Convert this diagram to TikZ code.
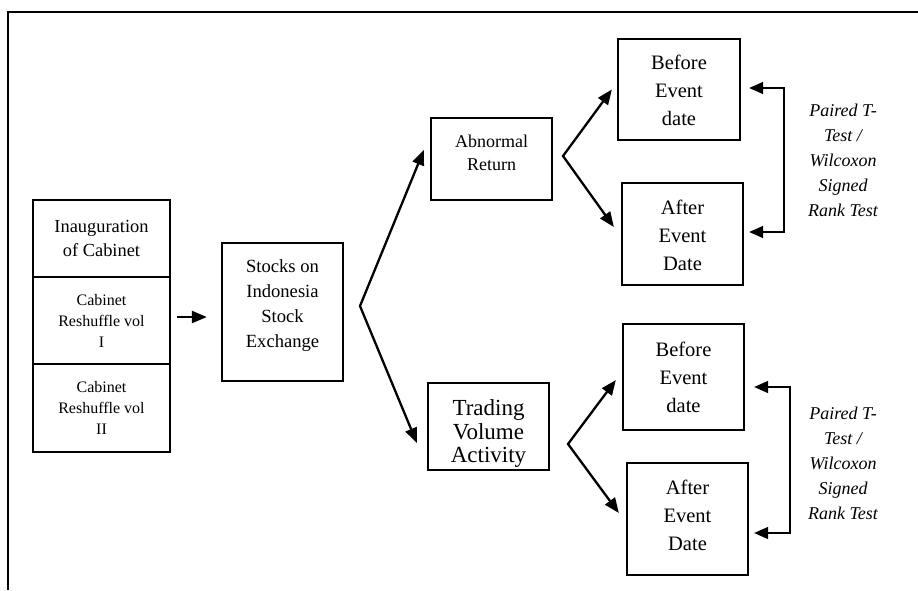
\documentclass[tikz,border=0pt]{standalone}
\usepackage{fontspec}
\setmainfont{Liberation Serif}
\usetikzlibrary{arrows.meta,calc}
\newcommand\liftlines[2]{\raisebox{#1}[\height][\depth]{\begin{tabular}{@{}c@{}}#2\end{tabular}}}
\begin{document}
\begin{tikzpicture}[x=1pt,y=-1pt,
  box/.style={draw, line width=2.3pt, rectangle, align=center, inner sep=2pt},
  arr/.style={line width=2.3pt, -{Triangle[length=15pt,width=12pt]}},
  darr/.style={line width=2.3pt, line join=miter, {Triangle[length=15pt,width=12pt]}-{Triangle[length=15pt,width=12pt]}},
  brk/.style={line width=1.5pt, {Triangle[length=14pt,width=12pt]}-{Triangle[length=14pt,width=12pt]}},
  lab/.style={align=center, font=\itshape\fontsize{18}{25}\selectfont},
  frame/.style={line width=2.5pt, line join=miter},
  bigf/.style={font=\fontsize{18.4}{24}\selectfont},
  smallf/.style={font=\fontsize{16}{21}\selectfont},
  midf/.style={font=\fontsize{18.6}{25}\selectfont},
  arf/.style={font=\fontsize{18}{23}\selectfont},
  tvf/.style={font=\fontsize{23}{23.5}\selectfont},
  evf/.style={font=\fontsize{20.5}{28}\selectfont}]
\useasboundingbox (0,0) rectangle (918,590);
% frame
\draw[frame] (8,590) -- (8,12) -- (918,12);
% left stack
\node[box, bigf, minimum width=137pt, minimum height=77pt] (inaug) at (101.5,238.5) {Inauguration\\of Cabinet};
\node[box, smallf, minimum width=137pt, minimum height=87pt] (resh1) at (101.5,320.5) {Cabinet\\Reshuffle vol\\I};
\node[box, smallf, minimum width=137pt, minimum height=88pt] (resh2) at (101.5,408) {Cabinet\\Reshuffle vol\\II};
% stocks
\node[box, midf, minimum width=121pt, minimum height=138pt] (stocks) at (282.5,312) {\liftlines{7pt}{Stocks on\\Indonesia\\Stock\\Exchange}};
% middle
\node[box, arf, minimum width=121pt, minimum height=82pt] (ar) at (491.5,159) {\liftlines{5pt}{Abnormal\\Return}};
\node[box, tvf, minimum width=121pt, minimum height=87pt] (tva) at (488.5,426.5) {\liftlines{-8pt}{Trading\\Volume\\Activity}};
% right boxes
\node[box, evf, minimum width=122pt, minimum height=101pt] (bef1) at (679,89.5) {\liftlines{-2pt}{Before\\Event\\date}};
\node[box, evf, minimum width=121pt, minimum height=102pt] (aft1) at (682.5,234) {\liftlines{-2.5pt}{After\\Event\\Date}};
\node[box, evf, minimum width=121pt, minimum height=106pt] (bef2) at (683.5,377) {Before\\Event\\date};
\node[box, evf, minimum width=121pt, minimum height=112pt] (aft2) at (687.5,519) {\liftlines{2.5pt}{After\\Event\\Date}};
% labels
\node[lab] (lab1) at (843,160) {Paired T-\\Test /\\Wilcoxon\\Signed\\Rank Test};
\node[lab] (lab2) at (843,463) {Paired T-\\Test /\\Wilcoxon\\Signed\\Rank Test};
% branch points
\coordinate (s1) at (360,306);
\coordinate (s2) at (563,156);
\coordinate (s3) at (568,444);
\coordinate (k1) at (784,88);
\coordinate (k2) at (784,232);
\coordinate (k3) at (790,387);
\coordinate (k4) at (790,533);
% connectors
\draw[arr, shorten <=6pt, shorten >=14pt] ([yshift=3.5pt]resh1.east) -- ([yshift=3.5pt]stocks.west |- resh1.east);
\draw[darr] ([xshift=-6pt,yshift=9pt]ar.west) -- (s1) -- ([xshift=-10pt,yshift=-16.5pt]tva.west);
\draw[darr] ([xshift=-5pt]bef1.west) -- (s2) -- ([xshift=-7pt,yshift=7pt]aft1.west);
\draw[darr] ([xshift=-6pt,yshift=-3pt]bef2.west) -- (s3) -- ([xshift=-7pt,yshift=6pt]aft2.west);
\draw[brk] ([xshift=8pt]bef1.east |- k1) -- (k1) -- (k2) -- ([xshift=5pt]aft1.east |- k2);
\draw[brk] ([xshift=9pt]bef2.east |- k3) -- (k3) -- (k4) -- ([xshift=5pt]aft2.east |- k4);
\end{tikzpicture}
\end{document}
